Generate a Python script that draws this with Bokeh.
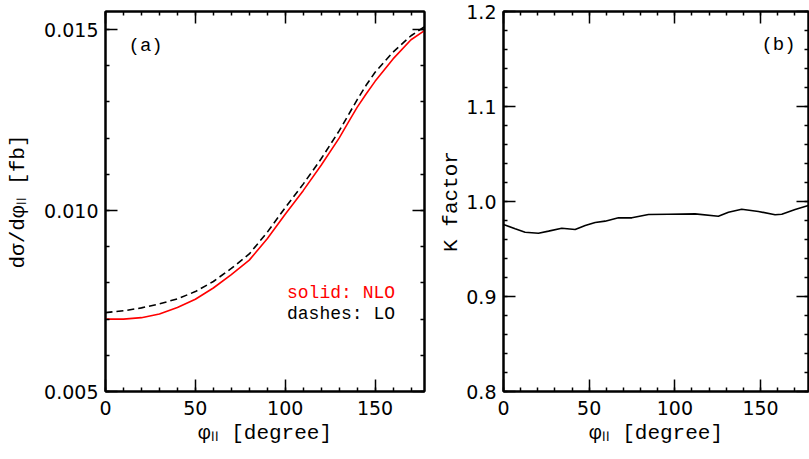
from bokeh.plotting import figure
from bokeh.layouts import row
from bokeh.models import LinearAxis, FixedTicker, PrintfTickFormatter, Range1d, Label
from bokeh.embed import file_html
from bokeh.resources import INLINE

# ---- data ----
phi = [0, 10, 20, 30, 40, 50, 60, 70, 80, 90, 100, 110, 120, 130, 135, 140, 145, 150, 160, 170, 177.5]
sigma_nlo = [0.00700, 0.00700, 0.00704, 0.00714, 0.00732, 0.00755, 0.00786, 0.00823, 0.00863,
             0.00922, 0.00990, 0.01055, 0.01125, 0.01200, 0.01243, 0.01285, 0.01322, 0.01357,
             0.01419, 0.01472, 0.01497]
sigma_lo = [0.00718, 0.00723, 0.00731, 0.00742, 0.00756, 0.00776, 0.00804, 0.00840, 0.00880,
            0.00940, 0.01008, 0.01073, 0.01143, 0.01220, 0.01263, 0.01306, 0.01346, 0.01382,
            0.01438, 0.01483, 0.01508]

k_phi = [0, 6.8, 12.6, 20.4, 26.3, 34.0, 41.8, 47.7, 53.5, 59.3, 67.1, 74.9, 84.6, 96.3,
         111.8, 125.4, 131.3, 139.0, 148.8, 158.5, 162.4, 170.2, 177.9]
k_val = [0.9758, 0.9712, 0.9677, 0.9666, 0.9688, 0.9719, 0.9705, 0.9747, 0.9779, 0.9793,
         0.9828, 0.9828, 0.9863, 0.9866, 0.9870, 0.9845, 0.9887, 0.9919, 0.9895, 0.9860,
         0.9866, 0.9916, 0.9958]

x_ticks = [0, 50, 100, 150]
x_minor = [0, 10, 20, 30, 40, 50, 60, 70, 80, 90, 100, 110, 120, 130, 140, 150, 160, 170]
ya_ticks = [0.005, 0.010, 0.015]
ya_minor = [0.005, 0.006, 0.007, 0.008, 0.009, 0.010, 0.011, 0.012, 0.013, 0.014, 0.015]
yb_ticks = [0.8, 0.9, 1.0, 1.1, 1.2]
yb_minor = [0.80, 0.82, 0.84, 0.86, 0.88, 0.90, 0.92, 0.94, 0.96, 0.98, 1.00, 1.02, 1.04,
            1.06, 1.08, 1.10, 1.12, 1.14, 1.16, 1.18, 1.20]

x_label = "φₗₗ [degree]"
y_label_a = "dσ/dφₗₗ [fb]"
y_label_b = "K factor"
panel_a = "(a)"
panel_b = "(b)"
legend_nlo = "solid: NLO"
legend_lo = "dashes: LO"

TICK_FONT = "DejaVu Sans"
TXT_FONT = "Liberation Mono"


def style_axis(ax, ticks, minor, fmt, labels=True):
    ax.ticker = FixedTicker(ticks=ticks, minor_ticks=minor)
    ax.formatter = PrintfTickFormatter(format=fmt)
    ax.major_tick_in = 12
    ax.major_tick_out = 0
    ax.minor_tick_in = 4
    ax.minor_tick_out = 0
    ax.axis_line_width = 2
    ax.axis_line_color = "black"
    ax.major_tick_line_width = 1.5
    ax.minor_tick_line_width = 1.5
    ax.major_tick_line_color = "black"
    ax.minor_tick_line_color = "black"
    ax.major_label_text_font = TICK_FONT
    if labels:
        ax.major_label_text_font_size = "19px"
        ax.major_label_text_color = "black"
    else:
        ax.major_label_text_font_size = "1px"
        ax.major_label_text_color = None
        ax.major_label_standoff = 0
    ax.axis_label_text_font = TXT_FONT
    ax.axis_label_text_font_size = "21px"
    ax.axis_label_text_font_style = "normal"
    ax.axis_label_text_color = "black"


def make_fig(fw, xr, yr, bl, br, yt, ym, yfmt, ylabel, ystand):
    p = figure(frame_width=fw, frame_height=380, x_range=Range1d(*xr), y_range=Range1d(*yr),
               output_backend="svg", toolbar_location=None,
               min_border_left=bl, min_border_right=br, min_border_top=11, min_border_bottom=68)
    p.grid.visible = False
    p.outline_line_color = "black"
    p.outline_line_width = 2
    p.background_fill_color = "white"
    p.border_fill_color = "white"
    xa = p.xaxis[0]
    ya = p.yaxis[0]
    style_axis(xa, x_ticks, x_minor, "%d")
    style_axis(ya, yt, ym, yfmt)
    xa.major_label_standoff = 9
    xa.axis_label = x_label
    xa.axis_label_standoff = 4
    ya.major_label_standoff = 7
    ya.axis_label = ylabel
    ya.axis_label_standoff = ystand
    top = LinearAxis()
    style_axis(top, x_ticks, x_minor, "%d", labels=False)
    p.add_layout(top, "above")
    right = LinearAxis()
    style_axis(right, yt, ym, yfmt, labels=False)
    p.add_layout(right, "right")
    return p


p1 = make_fig(319, (0, 177.5), (0.005, 0.0155), 105, 13, ya_ticks, ya_minor, "%.3f", y_label_a, 11)
p1.line(phi, sigma_lo, line_color="black", line_width=1.6, line_dash="7 4")
p1.line(phi, sigma_nlo, line_color="#ff0000", line_width=1.6)
p1.add_layout(Label(x=12.8, y=0.01456, text=panel_a, text_font=TXT_FONT, text_font_size="19px",
                    text_baseline="middle", text_color="black"))
p1.add_layout(Label(x=101, y=0.00773, text=legend_nlo, text_font=TXT_FONT, text_font_size="18px",
                    text_baseline="alphabetic", text_color="#ff0000"))
p1.add_layout(Label(x=101, y=0.00715, text=legend_lo, text_font=TXT_FONT, text_font_size="18px",
                    text_baseline="alphabetic", text_color="black"))

p2 = make_fig(305, (0, 178), (0.8, 1.2), 63, 4, yb_ticks, yb_minor, "%.1f", y_label_b, 0)
p2.line(k_phi, k_val, line_color="black", line_width=1.6)
p2.add_layout(Label(x=150.5, y=1.165, text=panel_b, text_font=TXT_FONT, text_font_size="19px",
                    text_baseline="middle", text_color="black"))

layout = row(p1, p2)
open("out.html", "w").write(file_html(layout, INLINE))
